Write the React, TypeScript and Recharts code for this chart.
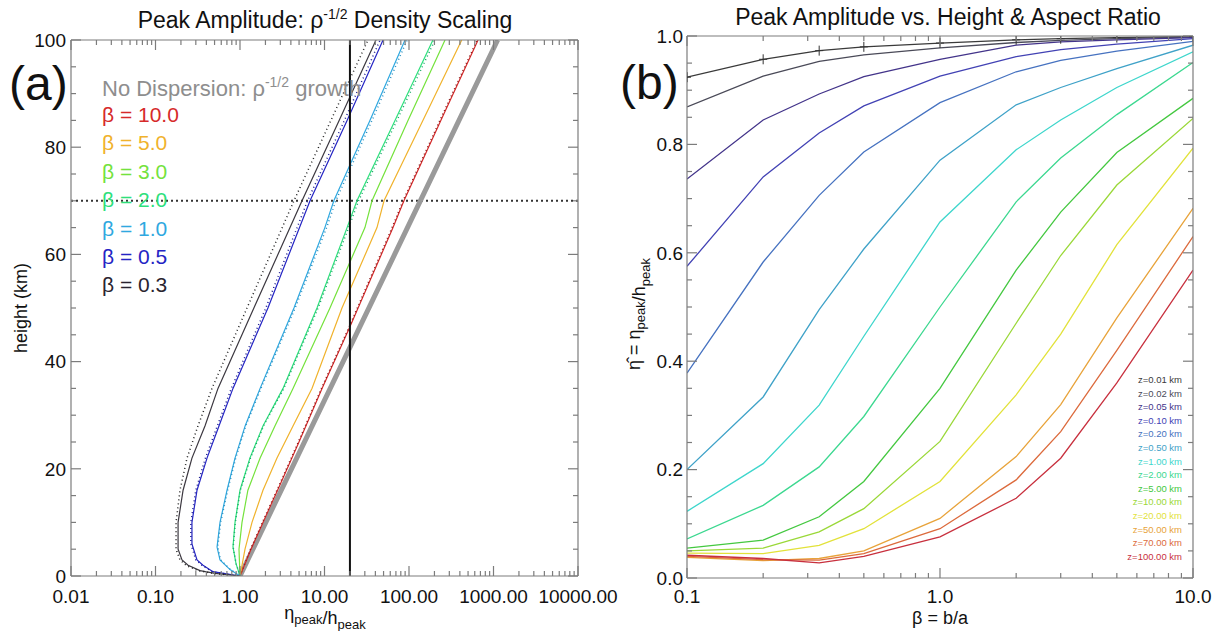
import React from "react";
import { LineChart, Line, XAxis, YAxis, ReferenceLine } from "recharts";

const FONT = "'Liberation Sans', Arial, Helvetica, sans-serif";
const AX = "#7c7c7c";

// ---------- panel (a): height (km) vs eta_peak/h_peak ----------
const grayH = [0, 20, 40, 60, 80, 100];
const grayV = [1, 4.07, 16.6, 67.6, 275, 1120];

const b03H = [0, 0.5, 1, 2, 3, 5, 10, 16, 22, 28, 35, 50, 70, 85, 100];
const b03V = [1, 0.506, 0.336, 0.243, 0.206, 0.185, 0.185, 0.212, 0.27, 0.385, 0.549, 1.46, 5.42, 14.9, 40.7];
const b03DotV = [1, 0.479, 0.318, 0.23, 0.195, 0.175, 0.175, 0.195, 0.236, 0.318, 0.466, 1.21, 4.35, 11.9, 32.7];

const b05H = [0, 0.8, 2, 3, 6, 10, 16, 22, 28, 35, 50, 70, 85, 100];
const b05V = [1, 0.479, 0.365, 0.31, 0.27, 0.27, 0.31, 0.407, 0.564, 0.826, 2.14, 6.74, 18.5, 49.3];
const b05DotV = [1, 0.47, 0.355, 0.3, 0.262, 0.262, 0.3, 0.39, 0.54, 0.79, 2.02, 6.3, 17.2, 45.5];

const b10H = [0, 1.2, 3, 5.4, 10, 16, 22, 28, 35, 50, 65, 70, 85, 100];
const b10V = [1, 0.762, 0.58, 0.535, 0.58, 0.702, 0.873, 1.15, 1.73, 4.35, 10.1, 12.9, 34.5, 89.7];
const b10DotV = [1, 0.77, 0.59, 0.545, 0.59, 0.715, 0.89, 1.17, 1.77, 4.5, 10.6, 13.6, 36.5, 95];

const b20H = [0, 2.3, 5.4, 10, 16, 22, 28, 35, 50, 65, 70, 85, 100];
const b20V = [1, 0.897, 0.826, 0.873, 1.0, 1.31, 1.87, 3.23, 8.15, 18.5, 24.2, 68.3, 192];
const b20DotV = [1, 0.9, 0.83, 0.88, 1.01, 1.33, 1.9, 3.3, 8.4, 19.3, 25.3, 72, 203];

const b30H = [0, 5, 10, 16, 22, 28, 35, 50, 65, 70, 85, 100];
const b30V = [1, 0.973, 1.056, 1.24, 1.73, 2.59, 4.24, 11.6, 30.1, 36.5, 97.3, 267];

const b50H = [0, 5, 10, 16, 22, 28, 35, 50, 65, 70, 85, 100];
const b50V = [1, 1.146, 1.387, 1.87, 2.74, 4.24, 7.11, 16.1, 41.8, 50.6, 146, 421];

const b100H = [0, 5, 10, 17, 25, 35, 46.5, 65, 70, 85, 100];
const b100V = [1, 1.35, 1.87, 2.97, 4.99, 9.35, 20.0, 64.7, 87.1, 238, 657];
const b100DotV = [1, 1.33, 1.84, 2.92, 4.9, 9.2, 19.6, 63, 85, 232, 640];

const aXMajors = [0.01, 0.1, 1, 10, 100, 1000, 10000];
const aXLabels = ["0.01", "0.10", "1.00", "10.00", "100.00", "1000.00", "10000.00"];
const aYMajors = [0, 20, 40, 60, 80, 100];

const legendA = [
  { label: "β = 10.0", color: "#d62a2a" },
  { label: "β = 5.0", color: "#f0b22c" },
  { label: "β = 3.0", color: "#74e23c" },
  { label: "β = 2.0", color: "#2ee07c" },
  { label: "β = 1.0", color: "#2fa8e0" },
  { label: "β = 0.5", color: "#2424c4" },
  { label: "β = 0.3", color: "#2a2430" },
];

// ---------- panel (b): eta-hat vs beta = b/a ----------
const betas = [0.1, 0.2, 0.333, 0.5, 1, 2, 3, 5, 10];
const z001 = [0.924, 0.957, 0.973, 0.98, 0.987, 0.993, 0.995, 0.997, 0.999];
const z002 = [0.869, 0.926, 0.953, 0.965, 0.978, 0.988, 0.992, 0.995, 0.998];
const z005 = [0.736, 0.845, 0.893, 0.925, 0.957, 0.983, 0.989, 0.993, 0.997];
const z010 = [0.575, 0.74, 0.821, 0.871, 0.926, 0.962, 0.975, 0.985, 0.995];
const z020 = [0.378, 0.583, 0.706, 0.786, 0.877, 0.934, 0.955, 0.972, 0.99];
const z050 = [0.2, 0.334, 0.495, 0.607, 0.771, 0.873, 0.905, 0.94, 0.983];
const z1 = [0.123, 0.211, 0.319, 0.446, 0.657, 0.79, 0.845, 0.905, 0.971];
const z2 = [0.072, 0.134, 0.205, 0.298, 0.5, 0.694, 0.775, 0.855, 0.951];
const z5 = [0.055, 0.07, 0.113, 0.178, 0.35, 0.568, 0.675, 0.785, 0.885];
const z10 = [0.05, 0.055, 0.085, 0.128, 0.252, 0.47, 0.595, 0.725, 0.848];
const z20 = [0.046, 0.045, 0.06, 0.091, 0.178, 0.338, 0.45, 0.615, 0.793];
const z50 = [0.038, 0.032, 0.036, 0.05, 0.11, 0.224, 0.32, 0.48, 0.682];
const z70 = [0.04, 0.034, 0.033, 0.045, 0.091, 0.181, 0.27, 0.42, 0.63];
const z100 = [0.042, 0.036, 0.028, 0.04, 0.076, 0.147, 0.221, 0.36, 0.568];

const seriesB = [
  { key: "z001", vals: z001, label: "z=0.01 km", color: "#3a3a3a" },
  { key: "z002", vals: z002, label: "z=0.02 km", color: "#4a4a58" },
  { key: "z005", vals: z005, label: "z=0.05 km", color: "#43348a" },
  { key: "z010", vals: z010, label: "z=0.10 km", color: "#4242b4" },
  { key: "z020", vals: z020, label: "z=0.20 km", color: "#4672c0" },
  { key: "z050", vals: z050, label: "z=0.50 km", color: "#3fa2c8" },
  { key: "z1", vals: z1, label: "z=1.00 km", color: "#3ed6cc" },
  { key: "z2", vals: z2, label: "z=2.00 km", color: "#3cd890" },
  { key: "z5", vals: z5, label: "z=5.00 km", color: "#44c840" },
  { key: "z10", vals: z10, label: "z=10.00 km", color: "#9ad838" },
  { key: "z20", vals: z20, label: "z=20.00 km", color: "#e2e23a" },
  { key: "z50", vals: z50, label: "z=50.00 km", color: "#e8a33a" },
  { key: "z70", vals: z70, label: "z=70.00 km", color: "#dc6a3c" },
  { key: "z100", vals: z100, label: "z=100.00 km", color: "#c8303e" },
];

const bXMajors = [0.1, 1, 10];
const bXLabels = ["0.1", "1.0", "10.0"];
const bYMajors = [0, 0.2, 0.4, 0.6, 0.8, 1.0];

const pts = (h: number[], v: number[]) => h.map((hh, i) => ({ h: hh, v: v[i] }));
const tableB = betas.map((b, i) => {
  const row: Record<string, number> = { b };
  seriesB.forEach((s) => (row[s.key] = s.vals[i]));
  return row;
});

function logTicks(majors: number[]) {
  const out: number[] = [];
  majors.forEach((m, i) => {
    out.push(m);
    if (i < majors.length - 1) for (let k = 2; k <= 9; k++) out.push(+(m * k).toPrecision(6));
  });
  return out;
}
const linTicks = (lo: number, hi: number, step: number) => {
  const out: number[] = [];
  for (let v = lo; v <= hi + 1e-9; v += step) out.push(+v.toFixed(4));
  return out;
};
const isLogMajor = (v: number) => Math.abs(Math.log10(v) - Math.round(Math.log10(v))) < 1e-6;

type Side = "bottom" | "top" | "left" | "right";
function tickFactory(side: Side, isMajor: (v: number) => boolean, fmt: ((v: number) => string) | null, fontSize: number, gap: number) {
  return (p: any) => {
    const v = p.payload.value;
    const major = isMajor(v);
    const len = major ? 10 : 5;
    const x = p.x;
    const y = p.y;
    let ln: React.ReactNode = null;
    let lb: React.ReactNode = null;
    if (side === "bottom") {
      ln = <line x1={x} y1={y} x2={x} y2={y - len} stroke={AX} strokeWidth={1.2} />;
      if (major && fmt)
        lb = (
          <text x={x} y={y + gap} textAnchor="middle" fontSize={fontSize} fill="#111" fontFamily={FONT}>
            {fmt(v)}
          </text>
        );
    } else if (side === "top") {
      ln = <line x1={x} y1={y} x2={x} y2={y + len} stroke={AX} strokeWidth={1.2} />;
    } else if (side === "left") {
      ln = <line x1={x} y1={y} x2={x + len} y2={y} stroke={AX} strokeWidth={1.2} />;
      if (major && fmt)
        lb = (
          <text x={x - gap} y={y + fontSize * 0.36} textAnchor="end" fontSize={fontSize} fill="#111" fontFamily={FONT}>
            {fmt(v)}
          </text>
        );
    } else {
      ln = <line x1={x} y1={y} x2={x - len} y2={y} stroke={AX} strokeWidth={1.2} />;
    }
    return (
      <g>
        {ln}
        {lb}
      </g>
    );
  };
}

const aXTicks = logTicks(aXMajors);
const aYTicks = linTicks(0, 100, 5);
const bXTicks = logTicks(bXMajors);
const bYTicks = linTicks(0, 1, 0.05);

const axisCommon = { tickLine: false, tickSize: 0, tickMargin: 0, interval: 0 as const, axisLine: { stroke: AX, strokeWidth: 1.2 } };

function PanelA() {
  const fmtX = (v: number) => aXLabels[aXMajors.findIndex((m) => Math.abs(m - v) < 1e-9 * Math.max(1, m))] ?? "";
  const isYMajor = (v: number) => aYMajors.includes(v);
  const thin = { isAnimationActive: false, dot: false, xAxisId: "xb", yAxisId: "yl", dataKey: "h" } as const;
  return (
    <LineChart width={620} height={631} margin={{ top: 30, right: 32, bottom: 25, left: 31 }}>
      <XAxis xAxisId="xb" orientation="bottom" dataKey="v" type="number" scale="log" domain={[0.01, 10000]} allowDataOverflow ticks={aXTicks} height={30} {...axisCommon} tick={tickFactory("bottom", isLogMajor, fmtX, 19, 27)} />
      <XAxis xAxisId="xt" orientation="top" dataKey="v" type="number" scale="log" domain={[0.01, 10000]} allowDataOverflow ticks={aXTicks} height={10} {...axisCommon} tick={tickFactory("top", isLogMajor, null, 19, 0)} />
      <YAxis yAxisId="yl" orientation="left" type="number" domain={[0, 100]} allowDataOverflow ticks={aYTicks} width={40} {...axisCommon} tick={tickFactory("left", isYMajor, (v) => String(v), 19, 5)} />
      <YAxis yAxisId="yr" orientation="right" type="number" domain={[0, 100]} allowDataOverflow ticks={aYTicks} width={10} {...axisCommon} tick={tickFactory("right", isYMajor, null, 19, 0)} />
      <ReferenceLine xAxisId="xb" yAxisId="yl" y={70} stroke="#333" strokeWidth={2} strokeDasharray="2 3" />
      <Line {...thin} data={pts(grayH, grayV)} stroke="#9a9a9a" strokeWidth={5} />
      <Line {...thin} data={pts(b100H, b100V)} stroke="#d62a2a" strokeWidth={1.2} />
      <Line {...thin} data={pts(b100H, b100DotV)} stroke="#8a1a1a" strokeWidth={1.5} strokeDasharray="1 3" />
      <Line {...thin} data={pts(b50H, b50V)} stroke="#f0b22c" strokeWidth={1.2} />
      <Line {...thin} data={pts(b30H, b30V)} stroke="#74e23c" strokeWidth={1.2} />
      <Line {...thin} data={pts(b20H, b20V)} stroke="#2ee07c" strokeWidth={1.2} />
      <Line {...thin} data={pts(b20H, b20DotV)} stroke="#1aa868" strokeWidth={1.5} strokeDasharray="1 3" />
      <Line {...thin} data={pts(b10H, b10V)} stroke="#2fa8e0" strokeWidth={1.2} />
      <Line {...thin} data={pts(b10H, b10DotV)} stroke="#2a90c0" strokeWidth={1.5} strokeDasharray="1 3" />
      <Line {...thin} data={pts(b05H, b05V)} stroke="#2424c4" strokeWidth={1.2} />
      <Line {...thin} data={pts(b05H, b05DotV)} stroke="#1c1c90" strokeWidth={1.5} strokeDasharray="1 3" />
      <Line {...thin} data={pts(b03H, b03V)} stroke="#3c3840" strokeWidth={1.2} />
      <Line {...thin} data={pts(b03H, b03DotV)} stroke="#222" strokeWidth={1.5} strokeDasharray="1 3" />
      <ReferenceLine xAxisId="xb" yAxisId="yl" x={20} stroke="#111" strokeWidth={2} />
    </LineChart>
  );
}

function PlusDot(p: any) {
  if (p.cx == null || p.cy == null) return <g key={p.index} />;
  return <path key={p.index} d={`M${p.cx - 4},${p.cy}h8M${p.cx},${p.cy - 5}v10`} stroke="#333" strokeWidth={1} fill="none" />;
}

function PanelB() {
  const fmtX = (v: number) => bXLabels[bXMajors.findIndex((m) => Math.abs(m - v) < 1e-9)] ?? "";
  const isYMajor = (v: number) => bYMajors.some((m) => Math.abs(m - v) < 1e-6);
  return (
    <LineChart width={602} height={631} data={tableB} margin={{ top: 26, right: 19, bottom: 23, left: 27 }}>
      <XAxis xAxisId="xb" orientation="bottom" dataKey="b" type="number" scale="log" domain={[0.1, 10]} allowDataOverflow ticks={bXTicks} height={30} {...axisCommon} tick={tickFactory("bottom", isLogMajor, fmtX, 19, 25)} />
      <XAxis xAxisId="xt" orientation="top" dataKey="b" type="number" scale="log" domain={[0.1, 10]} allowDataOverflow ticks={bXTicks} height={10} {...axisCommon} tick={tickFactory("top", isLogMajor, null, 19, 0)} />
      <YAxis yAxisId="yl" orientation="left" type="number" domain={[0, 1]} allowDataOverflow ticks={bYTicks} width={40} {...axisCommon} tick={tickFactory("left", isYMajor, (v) => v.toFixed(1), 19, 4)} />
      <YAxis yAxisId="yr" orientation="right" type="number" domain={[0, 1]} allowDataOverflow ticks={bYTicks} width={10} {...axisCommon} tick={tickFactory("right", isYMajor, null, 19, 0)} />
      {seriesB.map((s, i) => (
        <Line
          key={s.key}
          xAxisId="xb"
          yAxisId="yl"
          dataKey={s.key}
          stroke={s.color}
          strokeWidth={1.3}
          isAnimationActive={false}
          dot={i === 0 ? PlusDot : false}
        />
      ))}
    </LineChart>
  );
}

function Overlay() {
  const sub = (t: string) => (
    <>
      <tspan dy={5} fontSize={13}>{t}</tspan>
      <tspan dy={-5}>{""}</tspan>
    </>
  );
  return (
    <svg width={1222} height={631} style={{ position: "absolute", left: 0, top: 0, pointerEvents: "none" }} fontFamily={FONT}>
      <text x={325} y={28} textAnchor="middle" fontSize={23} fill="#111">
        Peak Amplitude: ρ<tspan dy={-9} fontSize={14}>-1/2</tspan>
        <tspan dy={9}> Density Scaling</tspan>
      </text>
      <text x={948} y={25} textAnchor="middle" fontSize={23} fill="#111">
        Peak Amplitude vs. Height &amp; Aspect Ratio
      </text>
      <text x={9} y={100} fontSize={48} fill="#111">(a)</text>
      <text x={620} y={99} fontSize={48} fill="#111">(b)</text>

      <text x={102} y={96} fontSize={22} fill="#8e8e8e">
        No Dispersion: ρ<tspan dy={-9} fontSize={14}>-1/2</tspan>
        <tspan dy={9}> growth</tspan>
      </text>
      {legendA.map((l, i) => (
        <text key={l.label} x={102} y={122 + i * 28.4} fontSize={21} fill={l.color}>
          {l.label}
        </text>
      ))}

      <text transform="rotate(-90 27 308)" x={27} y={308} textAnchor="middle" fontSize={18} fill="#111">
        height (km)
      </text>
      <text x={325} y={619} textAnchor="middle" fontSize={18} fill="#111">
        η{sub("peak")}/h{sub("peak")}
      </text>

      <text transform="rotate(-90 640 314)" x={640} y={314} textAnchor="middle" fontSize={18} fill="#111">
        η̂ = η{sub("peak")}/h{sub("peak")}
      </text>
      <text x={940} y={624} textAnchor="middle" fontSize={18} fill="#111">
        β = b/a
      </text>

      {seriesB.map((s, i) => (
        <text key={s.key} x={1182} y={383 + i * 13.6} textAnchor="end" fontSize={9.5} fill={s.color}>
          {s.label}
        </text>
      ))}
    </svg>
  );
}

export default function App() {
  return (
    <div style={{ position: "absolute", left: 0, top: 0, width: 1222, height: 631, background: "#fff", fontFamily: FONT }}>
      <div style={{ position: "absolute", left: 0, top: 0 }}>
        <PanelA />
      </div>
      <div style={{ position: "absolute", left: 620, top: 0 }}>
        <PanelB />
      </div>
      <Overlay />
    </div>
  );
}
